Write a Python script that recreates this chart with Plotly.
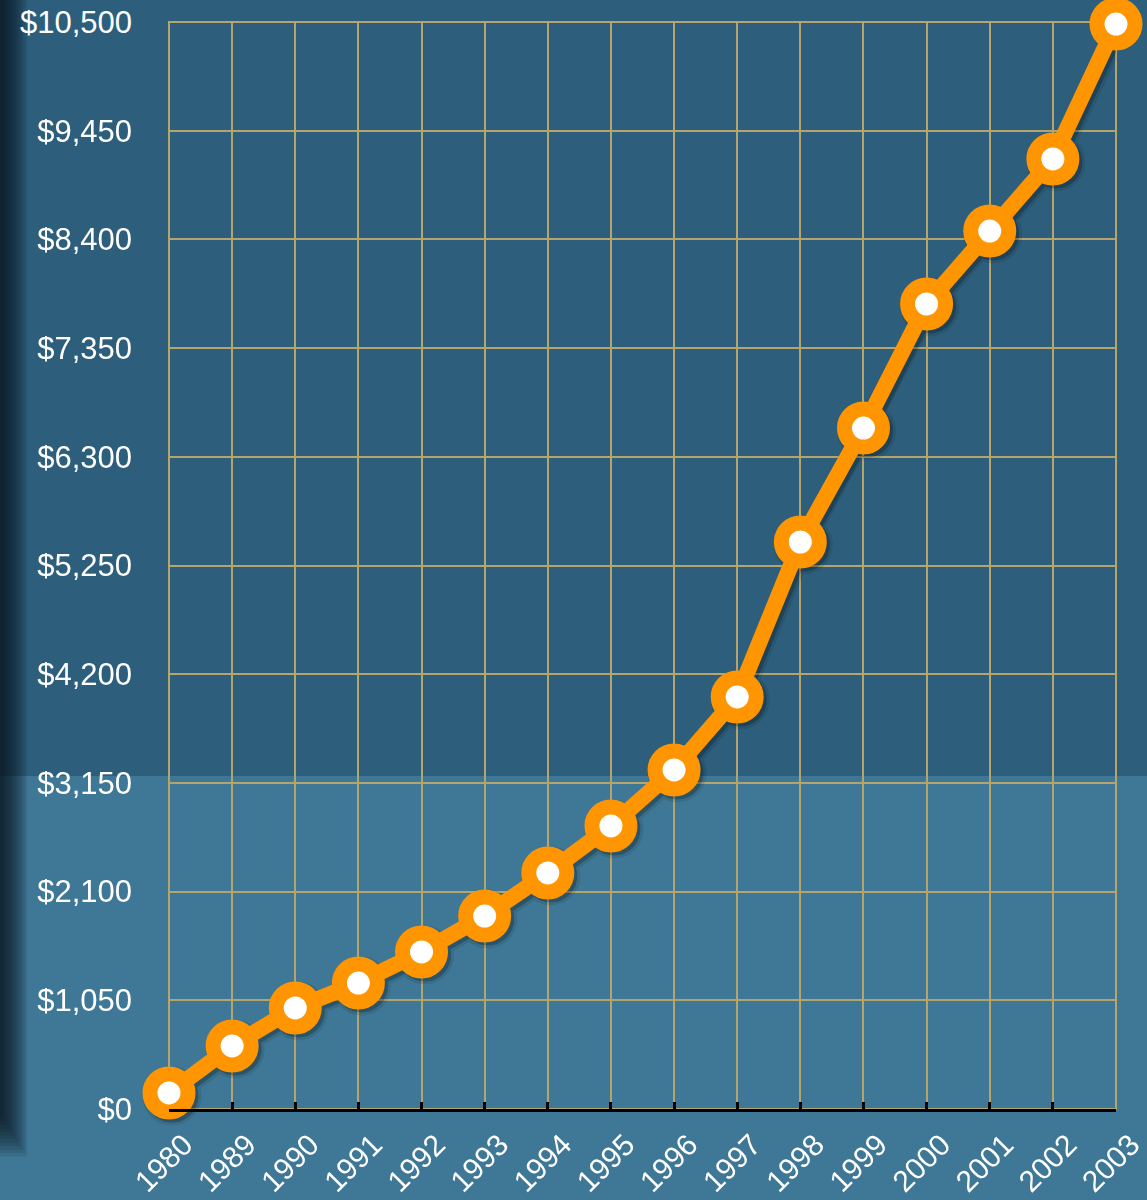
import plotly.graph_objects as go

years = ["1980", "1989", "1990", "1991", "1992", "1993", "1994", "1995",
         "1996", "1997", "1998", "1999", "2000", "2001", "2002", "2003"]
values = [155, 609, 976, 1217, 1517, 1864, 2280, 2734,
          3275, 3980, 5477, 6578, 7776, 8481, 9177, 10480]
y_ticks = [0, 1050, 2100, 3150, 4200, 5250, 6300, 7350, 8400, 9450, 10500]
y_labels = [f"${v:,}" for v in y_ticks]

W, H = 1147, 1200
L, R, T, B = 169, 31, 22, 91
pw, ph = W - L - R, H - T - B
GRID = "#b5a46c"
ORANGE = "#ff9500"
YMAX = 10500
XMAX = len(years) - 1


def px_x(p):
    return (p - L) / pw


def px_y(p):
    return (H - B - p) / ph


fig = go.Figure()

# invisible trace so the main (grid + labels) axes are drawn
fig.add_trace(go.Scatter(
    x=years, y=values, mode="lines", opacity=0,
    line=dict(width=0), showlegend=False, hoverinfo="skip",
))

# drop shadow: same data on an overlaid axis pair whose range is nudged
# a few pixels so the shadow falls down and to the right
for grow, op in [(6, 0.10), (0, 0.22)]:
    fig.add_trace(go.Scatter(
        x=years,
        y=values,
        xaxis="x2",
        yaxis="y2",
        mode="lines+markers",
        line=dict(color="black", width=16 + grow),
        marker=dict(size=38 + grow, color="black", line=dict(color="black", width=15)),
        opacity=op,
        cliponaxis=False,
        showlegend=False,
        hoverinfo="skip",
    ))

fig.add_trace(go.Scatter(
    x=years,
    y=values,
    xaxis="x3",
    yaxis="y3",
    mode="lines+markers",
    line=dict(color=ORANGE, width=16),
    marker=dict(size=38, color="white", line=dict(color=ORANGE, width=15)),
    cliponaxis=False,
    showlegend=False,
    hoverinfo="skip",
))

shapes = [
    # darker upper band of the background
    dict(type="rect", xref="paper", yref="paper", layer="below",
         x0=px_x(0), x1=px_x(W), y0=px_y(776), y1=px_y(0),
         fillcolor="#2d5f7d", line=dict(width=0)),
]
# soft dark shadow on the left edge
for i in range(12):
    w = 3 + i * 2.2
    shapes.append(dict(
        type="rect", xref="paper", yref="paper", layer="below",
        x0=px_x(0), x1=px_x(w), y0=px_y(1118 + i * 3.5), y1=px_y(0),
        fillcolor="#081218", opacity=0.11, line=dict(width=0)))
# grid frame (edge grid lines)
shapes.append(dict(type="rect", xref="paper", yref="paper", layer="below",
                   x0=0, x1=1, y0=0, y1=1,
                   line=dict(color=GRID, width=2)))

hidden = dict(visible=False, showgrid=False, zeroline=False, automargin=False)
sx = 3 / pw * XMAX
sy = 3 / ph * YMAX

fig.update_layout(
    width=W,
    height=H,
    margin=dict(l=L, r=R, t=T, b=B, autoexpand=False),
    paper_bgcolor="#3f7896",
    plot_bgcolor="rgba(0,0,0,0)",
    font=dict(family="Liberation Sans, Arial, sans-serif", color="white"),
    shapes=shapes,
    xaxis=dict(
        type="category",
        categoryarray=years,
        range=[0, XMAX],
        automargin=False,
        showgrid=True,
        gridcolor=GRID,
        gridwidth=2,
        showline=True,
        linecolor="black",
        linewidth=3,
        ticks="inside",
        ticklen=7,
        tickwidth=3,
        tickcolor="black",
        tickangle=-45,
        tickfont=dict(size=30, color="white"),
        ticklabelstandoff=3,
        ticklabelshift=15,
        zeroline=False,
    ),
    yaxis=dict(
        range=[0, YMAX],
        automargin=False,
        tickmode="array",
        tickvals=y_ticks,
        ticktext=y_labels,
        showgrid=True,
        gridcolor=GRID,
        gridwidth=2,
        showline=False,
        zeroline=False,
        ticks="",
        tickfont=dict(size=31, color="white"),
        ticklabelstandoff=36,
    ),
    xaxis2=dict(hidden, type="category", categoryarray=years,
                overlaying="x", range=[-sx, XMAX - sx]),
    yaxis2=dict(hidden, overlaying="y", range=[sy, YMAX + sy]),
    xaxis3=dict(hidden, type="category", categoryarray=years,
                overlaying="x", range=[0, XMAX]),
    yaxis3=dict(hidden, overlaying="y", range=[0, YMAX]),
)

fig.write_html(
    "out.html",
    config={"displayModeBar": False},
    post_script="document.body.style.margin='0px';",
)
